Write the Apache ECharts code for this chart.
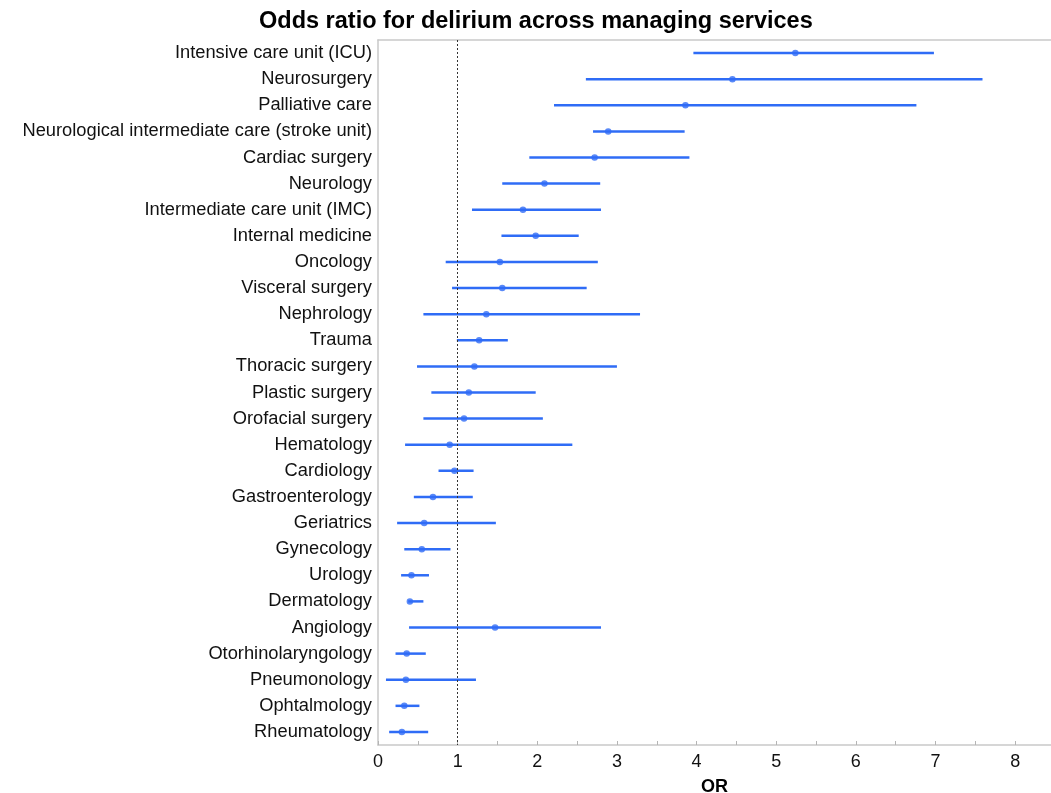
<!DOCTYPE html>
<html>
<head>
<meta charset="utf-8">
<style>
  html, body { margin: 0; padding: 0; background: #fff; }
  #chart { width: 1051px; height: 793px; }
</style>
<script src="https://cdn.jsdelivr.net/npm/echarts@6/dist/echarts.min.js"></script>
</head>
<body>
<div id="chart"></div>
<script>
// Managing services, top to bottom
const services = [
  'Intensive care unit (ICU)', 'Neurosurgery', 'Palliative care',
  'Neurological intermediate care (stroke unit)', 'Cardiac surgery', 'Neurology',
  'Intermediate care unit (IMC)', 'Internal medicine', 'Oncology', 'Visceral surgery',
  'Nephrology', 'Trauma', 'Thoracic surgery', 'Plastic surgery', 'Orofacial surgery',
  'Hematology', 'Cardiology', 'Gastroenterology', 'Geriatrics', 'Gynecology', 'Urology',
  'Dermatology', 'Angiology', 'Otorhinolaryngology', 'Pneumonology', 'Ophtalmology',
  'Rheumatology'
];
// Odds ratio point estimates
const oddsRatio = [
  5.24, 4.45, 3.86, 2.89, 2.72, 2.09, 1.82, 1.98, 1.53, 1.56,
  1.36, 1.27, 1.21, 1.14, 1.08, 0.90, 0.96, 0.69, 0.58, 0.55,
  0.42, 0.40, 1.47, 0.36, 0.35, 0.33, 0.30
];
// Lower and upper confidence bounds
const ciLower = [
  3.96, 2.61, 2.21, 2.70, 1.90, 1.56, 1.18, 1.55, 0.85, 0.93,
  0.57, 0.99, 0.49, 0.67, 0.57, 0.34, 0.76, 0.45, 0.24, 0.33,
  0.29, 0.38, 0.39, 0.22, 0.10, 0.22, 0.14
];
const ciUpper = [
  6.98, 7.59, 6.76, 3.85, 3.91, 2.79, 2.80, 2.52, 2.76, 2.62,
  3.29, 1.63, 3.00, 1.98, 2.07, 2.44, 1.20, 1.19, 1.48, 0.91,
  0.64, 0.57, 2.80, 0.60, 1.23, 0.52, 0.63
];
// Tick values on the OR axis
const orTickLabels = [0, 1, 2, 3, 4, 5, 6, 7, 8];
const orTickMarks = [0, 0.5, 1, 1.5, 2, 2.5, 3, 3.5, 4, 4.5, 5, 5.5, 6, 6.5, 7, 7.5, 8];
const referenceOR = 1;

const FONT = '"Liberation Sans", Arial, Helvetica, sans-serif';
const BLUE = '#2f6cf6';
const AXIS_GREY = '#c9c9c9';

const chart = echarts.init(document.getElementById('chart'), null, { renderer: 'canvas' });

const intervals = services.map((s, i) => [ciLower[i], ciUpper[i], i]);
const points = services.map((s, i) => [oddsRatio[i], i]);

chart.setOption({
  animation: false,
  backgroundColor: '#fff',
  title: {
    text: 'Odds ratio for delirium across managing services',
    left: 259,
    top: 10,
    padding: 0,
    textStyle: { fontFamily: FONT, fontWeight: 'bold', fontSize: 23.5, color: '#000' }
  },
  grid: {
    left: 378, right: 0, top: 40, bottom: 48,
    containLabel: false,
    outerBoundsMode: 'none'
  },
  xAxis: [
    {
      type: 'value',
      min: 0,
      max: 8.45,
      position: 'bottom',
      name: 'OR',
      nameLocation: 'middle',
      nameGap: 33,
      nameTextStyle: { fontFamily: FONT, fontWeight: 'bold', fontSize: 18, color: '#000', verticalAlign: 'top' },
      axisLine: { show: true, lineStyle: { color: AXIS_GREY, width: 1.5 } },
      axisTick: {
        show: true, inside: true, length: 4,
        customValues: orTickMarks,
        lineStyle: { color: '#b5b5b5', width: 1 }
      },
      axisLabel: {
        customValues: orTickLabels,
        fontFamily: FONT, fontSize: 18, color: '#111', margin: 8
      },
      splitLine: { show: false }
    },
    {
      type: 'value',
      min: 0,
      max: 8.45,
      position: 'top',
      axisLine: { show: true, lineStyle: { color: AXIS_GREY, width: 1.5 } },
      axisTick: { show: false },
      axisLabel: { show: false },
      splitLine: { show: false }
    }
  ],
  yAxis: {
    type: 'category',
    data: services,
    inverse: true,
    axisLine: { show: true, lineStyle: { color: AXIS_GREY, width: 1.5 } },
    axisTick: { show: false },
    axisLabel: { fontFamily: FONT, fontSize: 18.3, color: '#111', margin: 6 },
    splitLine: { show: false }
  },
  series: [
    {
      type: 'custom',
      name: 'CI',
      xAxisIndex: 0,
      data: intervals,
      encode: { x: [0, 1], y: 2 },
      renderItem: function (params, api) {
        const y = api.value(2);
        const p0 = api.coord([api.value(0), y]);
        const p1 = api.coord([api.value(1), y]);
        return {
          type: 'line',
          shape: { x1: p0[0], y1: p0[1], x2: p1[0], y2: p1[1] },
          style: { stroke: BLUE, lineWidth: 2.5 }
        };
      },
      z: 2
    },
    {
      type: 'scatter',
      name: 'OR',
      xAxisIndex: 0,
      data: points,
      symbol: 'circle',
      symbolSize: 6.5,
      itemStyle: { color: BLUE },
      z: 3,
      markLine: {
        silent: true,
        symbol: 'none',
        label: { show: false },
        lineStyle: { color: '#333', type: [2, 2], width: 1 },
        data: [{ xAxis: referenceOR }]
      }
    }
  ]
});
</script>
</body>
</html>
